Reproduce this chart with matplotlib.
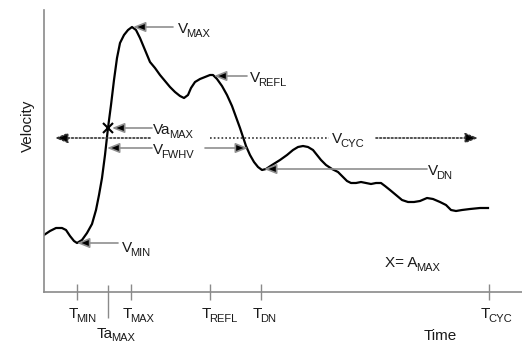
import matplotlib
matplotlib.use("Agg")
import matplotlib.pyplot as plt

plt.rcParams['font.family'] = 'Liberation Sans'

# velocity waveform over one cardiac cycle (arbitrary units)
time = [0, 6, 12, 18, 22, 26, 30, 33, 38, 43, 48, 52, 55, 58, 61, 64, 67, 70, 73, 76,
        80, 84, 88, 92, 96, 101, 106, 111, 116, 121, 126, 131, 136, 140, 144, 147, 151,
        156, 161, 166, 169, 173, 178, 183, 188, 192, 196, 199, 202, 206, 210, 214, 218,
        222, 228, 236, 243, 249, 254, 259, 264, 269, 273, 277, 282, 288, 294, 299, 303,
        307, 312, 317, 322, 327, 332, 337, 341, 346, 352, 358, 364, 370, 376, 383, 389,
        396, 402, 407, 412, 418, 426, 436, 444]
velocity = [57, 61, 64, 64, 62, 56, 51, 49, 52, 59, 68, 82, 97, 114, 137, 164, 187, 212, 234, 249,
            257, 262, 265, 262, 254, 242, 230, 224, 217, 211, 205, 200, 196, 194, 197, 204, 210,
            213, 215, 217, 217, 213, 206, 197, 186, 175, 164, 155, 146, 137, 130, 125, 122,
            123, 127, 132, 137, 142, 145, 146, 145, 142, 137, 132, 127, 123, 120, 115, 111,
            109, 109, 110, 109, 108, 109, 109, 106, 102, 97, 92, 90, 90, 91, 94, 93,
            90, 87, 82, 81, 82, 83, 84, 84]

tick_times = [33, 87, 166, 217, 445]
tick_subs = ['MIN', 'MAX', 'REFL', 'DN', 'CYC']
ta_max = 64
va_max = 164
v_max = 265
v_refl = 216
v_dn = 123
v_min = 49
v_fwhv = 144
v_cyc = 154

axis_gray = '#8a8a8a'
arrow_gray = '#8f8f8f'
txt = '#1a1a1a'

fig = plt.figure(figsize=(5.22, 3.43), dpi=100)
ax = fig.add_axes([44 / 522, 51 / 343, 478 / 522, 282 / 343])
ax.set_xlim(0, 478)
ax.set_ylim(0, 282)

for s in ['top', 'right']:
    ax.spines[s].set_visible(False)
for s in ['left', 'bottom']:
    ax.spines[s].set_color(axis_gray)
    ax.spines[s].set_linewidth(1.2)


def label(x, y, main, sub='', ha='left', drop=0.6, **kw):
    t = ax.text(x, y, main, fontsize=11, color=txt, ha=ha, va='baseline', **kw)
    if sub:
        ax.annotate(sub, xy=(1, 0), xycoords=t, xytext=(-1.2, -drop),
                    textcoords='offset points', fontsize=8, color=txt,
                    ha='left', va='baseline', annotation_clip=False)
    return t


ax.set_yticks([])
ax.set_xticks(tick_times)
ax.set_xticklabels([])
ax.tick_params(axis='x', direction='inout', length=11.5, width=1, color=axis_gray)
for tt, sub in zip(tick_times, tick_subs):
    label(tt + 1, -26, 'T', sub, ha='right', clip_on=False)
# longer tick for time of max acceleration
ax.vlines(ta_max, -26, 7, color=axis_gray, lw=1, clip_on=False)
label(ta_max - 11, -46, 'Ta', 'MAX', drop=0.2, clip_on=False)

ax.set_ylabel('Velocity', fontsize=11, color=txt, va='center')
ax.yaxis.set_label_coords(-0.034, 0.59)
ax.set_xlabel('Time', fontsize=11, color=txt, va='top')
ax.xaxis.set_label_coords(0.83, -0.13)

ax.plot(time, velocity, color='black', lw=1.6)
ax.plot([ta_max], [va_max], marker='x', ms=7, mew=1.5, color='black')


def arrow(tip, tail, ls='-', color=arrow_gray):
    ax.annotate('', xy=tip, xytext=tail,
                arrowprops=dict(arrowstyle='-|>,head_length=0.75,head_width=0.3',
                                fc='black', ec=color, lw=1.2, ls=ls,
                                shrinkA=0, shrinkB=0, mutation_scale=10))


arrow((89, v_max), (129, v_max))
label(134, v_max - 6, 'V', 'MAX')
arrow((170, v_refl), (203, v_refl))
label(206, v_refl - 6, 'V', 'REFL')
arrow((68, va_max), (108, va_max))
label(109, va_max - 6, 'Va', 'MAX')
arrow((63, v_fwhv), (108, v_fwhv))
arrow((204, v_fwhv), (161, v_fwhv))
label(109, v_fwhv - 6, 'V', 'FWHV')
arrow((220, v_dn), (383, v_dn))
label(384, v_dn - 6, 'V', 'DN')
arrow((33, v_min), (74, v_min))
label(78, v_min - 9, 'V', 'MIN')

dot = (0, (1, 1.3))
arrow((11, v_cyc), (106, v_cyc), ls=dot, color='#333333')
ax.plot([166, 285], [v_cyc, v_cyc], color='#333333', lw=1.2, ls=dot)
arrow((434, v_cyc), (332, v_cyc), ls=dot, color='#333333')
label(288, v_cyc - 5, 'V', 'CYC')

label(341, 25, 'X= A', 'MAX')

fig.savefig('out.png', dpi=100)
